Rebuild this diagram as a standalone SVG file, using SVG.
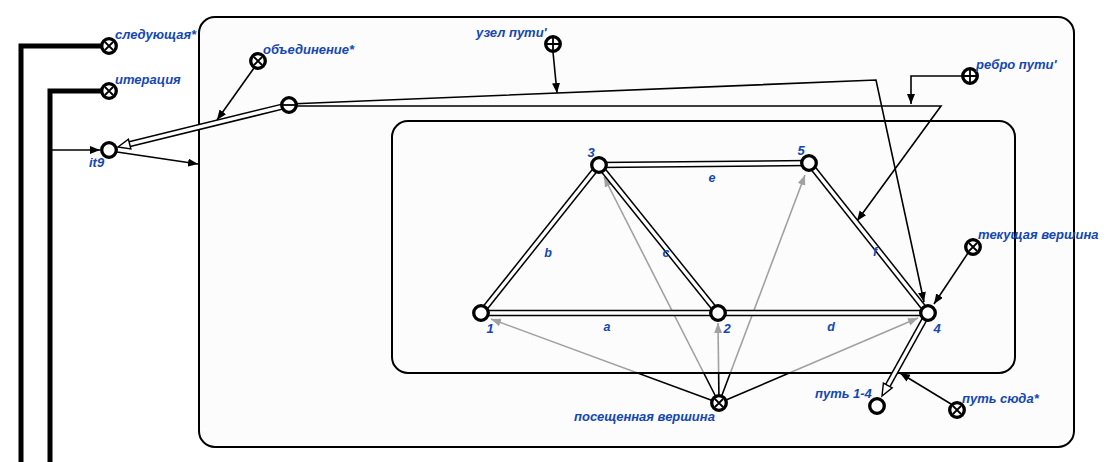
<svg xmlns="http://www.w3.org/2000/svg" width="1112" height="462" viewBox="0 0 1112 462">
<style>
.lbl{font-family:"Liberation Sans",Arial,sans-serif;font-weight:bold;font-style:italic;font-size:13px;fill:#1447b4}
.elbl{font-family:"Liberation Sans",Arial,sans-serif;font-weight:bold;font-style:italic;font-size:12.5px;fill:#1447b4;text-anchor:middle}
.ring{fill:#ffffff;stroke:#000;stroke-width:3.3}
.x{stroke:#000;stroke-width:1.8;fill:none}
.ln{stroke:#000;stroke-width:1.6;fill:none}
.dblo{stroke:#000;stroke-width:6.4;fill:none}
.dbli{stroke:#fff;stroke-width:3.4;fill:none}
.head{fill:#fff;stroke:#000;stroke-width:1.4;stroke-linejoin:miter}
.thick{stroke:#000;stroke-width:5;fill:none}
</style>
<defs>
<marker id="ah" markerWidth="11" markerHeight="9" refX="10" refY="4" orient="auto" markerUnits="userSpaceOnUse">
<path d="M0,0 L10,4 L0,8 z" fill="#000"/>
</marker>
</defs>
<rect width="1112" height="462" fill="#ffffff"/>
<g id="outer-box"><rect x="199" y="17" width="875" height="430" rx="16" fill="#fcfcfc" stroke="#000" stroke-width="2"/></g>
<g id="visited-links">
<path class="ln" d="M719,403 L491,319" marker-end="url(#ah)"/>
<path class="ln" d="M719,403 L604,177" marker-end="url(#ah)"/>
<path class="ln" d="M719,403 L718,323" marker-end="url(#ah)"/>
<path class="ln" d="M719,403 L805,175" marker-end="url(#ah)"/>
<path class="ln" d="M719,403 L918,318" marker-end="url(#ah)"/>
</g>
<g id="inner-box"><rect x="392" y="121" width="623" height="252" rx="16" fill="#fcfcfc" fill-opacity="0.64" stroke="#000" stroke-width="2"/></g>
<g id="connectors">
<path class="thick" d="M108,46 L21,46 L21,462"/>
<path class="thick" d="M108,91 L50,91 L50,462"/>
<path class="ln" d="M50,150 L100,150" marker-end="url(#ah)"/>
<path class="ln" d="M117,152 L198,164" marker-end="url(#ah)"/>
<path class="ln" d="M254,68 L217,120" marker-end="url(#ah)"/>
<path class="dblo" d="M289,105 L129.6,144.1"/>
<path class="dbli" d="M289,105 L129.6,144.1"/>
<polygon class="head" points="118,147 130.9,149 128.4,139.3"/>
<path class="ln" d="M289,104 L876,80 L924,302" marker-end="url(#ah)"/>
<path class="ln" d="M289,106 L941,106 L857,221" marker-end="url(#ah)"/>
<path class="ln" d="M553,52 L557,93" marker-end="url(#ah)"/>
<path class="ln" d="M962,76 L911,76 L911,104" marker-end="url(#ah)"/>
<path class="ln" d="M968,253 L934,304" marker-end="url(#ah)"/>
<path class="dblo" d="M928,313 L887.8,385.5"/>
<path class="dbli" d="M928,313 L887.8,385.5"/>
<polygon class="head" points="882,396 892.2,387.9 883.4,383.1"/>
<path class="ln" d="M951,404 L900,373" marker-end="url(#ah)"/>
</g>
<g id="edges">
<g id="edge-a"><path class="dblo" d="M481,313 L718,313"/><path class="dbli" d="M481,313 L718,313"/><text class="elbl" x="607" y="331">a</text></g>
<g id="edge-d"><path class="dblo" d="M718,313 L928,313"/><path class="dbli" d="M718,313 L928,313"/><text class="elbl" x="831" y="331">d</text></g>
<g id="edge-b"><path class="dblo" d="M481,313 L599,165"/><path class="dbli" d="M481,313 L599,165"/><text class="elbl" x="548" y="257">b</text></g>
<g id="edge-c"><path class="dblo" d="M599,165 L718,313"/><path class="dbli" d="M599,165 L718,313"/><text class="elbl" x="666" y="257">c</text></g>
<g id="edge-e"><path class="dblo" d="M599,165 L809,163"/><path class="dbli" d="M599,165 L809,163"/><text class="elbl" x="712" y="182">e</text></g>
<g id="edge-f"><path class="dblo" d="M809,163 L928,313"/><path class="dbli" d="M809,163 L928,313"/><text class="elbl" x="875" y="256">f</text></g>
</g>
<g id="node-next"><circle class="ring" cx="109" cy="46" r="7.3"/><path class="x" d="M105,42 L113,50 M113,42 L105,50"/><text class="lbl" x="115" y="39">следующая*</text></g>
<g id="node-iteration"><circle class="ring" cx="109" cy="91" r="7.3"/><path class="x" d="M105,87 L113,95 M113,87 L105,95"/><text class="lbl" x="115" y="84">итерация</text></g>
<g id="node-it9"><circle class="ring" cx="109" cy="150" r="7.3"/><text class="lbl" x="89" y="167">it9</text></g>
<g id="node-union"><circle class="ring" cx="258" cy="61" r="7.3"/><path class="x" d="M254,57 L262,65 M262,57 L254,65"/><text class="lbl" x="263" y="54">объединение*</text></g>
<g id="node-union-op"><circle class="ring" cx="289" cy="105" r="7.3"/><path class="x" d="M282,105 L296,105"/></g>
<g id="node-path-node"><circle class="ring" cx="553" cy="44" r="7.3"/><path class="x" d="M546,44 L560,44 M553,37 L553,51"/><text class="lbl" x="476" y="37">узел пути'</text></g>
<g id="node-path-edge"><circle class="ring" cx="970" cy="76" r="7.3"/><path class="x" d="M963,76 L977,76 M970,69 L970,83"/><text class="lbl" x="976" y="69">ребро пути'</text></g>
<g id="node-current"><circle class="ring" cx="973" cy="247" r="7.3"/><path class="x" d="M969,243 L977,251 M977,243 L969,251"/><text class="lbl" x="978" y="239">текущая вершина</text></g>
<g id="node-visited"><circle class="ring" cx="719" cy="403" r="7.3"/><path class="x" d="M715,399 L723,407 M723,399 L715,407"/><text class="lbl" x="574" y="421">посещенная вершина</text></g>
<g id="node-path14"><circle class="ring" cx="877" cy="406" r="7.3"/><text class="lbl" x="815" y="398">путь 1-4</text></g>
<g id="node-path-here"><circle class="ring" cx="957" cy="410" r="7.3"/><path class="x" d="M953,406 L961,414 M961,406 L953,414"/><text class="lbl" x="962" y="403">путь сюда*</text></g>
<g id="node-1"><circle class="ring" cx="481" cy="313" r="7.3"/><text class="lbl" x="490" y="333" text-anchor="middle">1</text></g>
<g id="node-2"><circle class="ring" cx="718" cy="313" r="7.3"/><text class="lbl" x="727" y="333" text-anchor="middle">2</text></g>
<g id="node-3"><circle class="ring" cx="599" cy="165" r="7.3"/><text class="lbl" x="591" y="157" text-anchor="middle">3</text></g>
<g id="node-4"><circle class="ring" cx="928" cy="313" r="7.3"/><text class="lbl" x="937" y="333" text-anchor="middle">4</text></g>
<g id="node-5"><circle class="ring" cx="809" cy="163" r="7.3"/><text class="lbl" x="801" y="155" text-anchor="middle">5</text></g>
</svg>
